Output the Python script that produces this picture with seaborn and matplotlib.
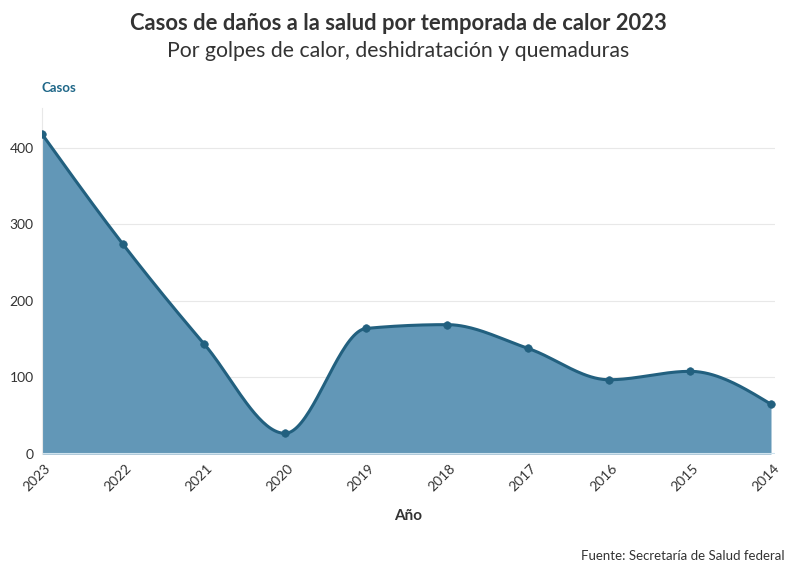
import numpy as np
import pandas as pd
import matplotlib
matplotlib.use("Agg")
import matplotlib.pyplot as plt
import seaborn as sns

years = ["2023", "2022", "2021", "2020", "2019", "2018", "2017", "2016", "2015", "2014"]
casos = [418, 274, 144, 27, 164, 169, 138, 97, 108, 65]

title = "Casos de daños a la salud por temporada de calor 2023"
subtitle = "Por golpes de calor, deshidratación y quemaduras"
y_label = "Casos"
x_label = "Año"
source = "Fuente: Secretaría de Salud federal"

LINE = "#22607f"
FILL = "#6297b7"
TXT = "#333333"

sns.set_theme(style="white")
plt.rcParams['font.family'] = ['Lato', 'DejaVu Sans']

df = pd.DataFrame({"pos": np.arange(len(years)), "year": years, "casos": casos})


def monotone_x(x, y, n=40):
    x = np.asarray(x, float); y = np.asarray(y, float)
    m = len(x)
    h = np.diff(x)
    s = np.diff(y) / h
    t = np.zeros(m)
    for i in range(1, m - 1):
        s0, s1 = s[i - 1], s[i]
        p = (s0 * h[i] + s1 * h[i - 1]) / (h[i - 1] + h[i])
        t[i] = (np.sign(s0) + np.sign(s1)) * min(abs(s0), abs(s1), 0.5 * abs(p))
    t[0] = (3 * s[0] - t[1]) / 2
    t[-1] = (3 * s[-1] - t[-2]) / 2
    xs, ys = [], []
    for i in range(m - 1):
        dx = h[i] / 3
        P0 = (x[i], y[i]); P1 = (x[i] + dx, y[i] + dx * t[i])
        P2 = (x[i + 1] - dx, y[i + 1] - dx * t[i + 1]); P3 = (x[i + 1], y[i + 1])
        u = np.linspace(0, 1, n, endpoint=(i == m - 2))
        b0 = (1 - u) ** 3; b1 = 3 * u * (1 - u) ** 2; b2 = 3 * u ** 2 * (1 - u); b3 = u ** 3
        xs.append(b0 * P0[0] + b1 * P1[0] + b2 * P2[0] + b3 * P3[0])
        ys.append(b0 * P0[1] + b1 * P1[1] + b2 * P2[1] + b3 * P3[1])
    return np.concatenate(xs), np.concatenate(ys)


fig = plt.figure(figsize=(7.96, 5.75), dpi=100)
ax = fig.add_axes([42 / 796, 1 - 454 / 575, (775 - 42) / 796, (454 - 108) / 575])

sx, sy = monotone_x(df["pos"], df["casos"])
ax.fill_between(sx, 0, sy, color=FILL, lw=0, zorder=1)
sns.lineplot(x=sx, y=sy, ax=ax, color=LINE, lw=2.2, zorder=3, sort=False)
sns.scatterplot(data=df, x="pos", y="casos", ax=ax, color=LINE, s=30, edgecolor=LINE, zorder=4)
ax.axhline(0, color="#cfe3ee", lw=1.5, zorder=2)

ax.set_xlim(0, 9 + 4 / 81)
ax.set_ylim(0, 452)
ax.set_yticks([0, 100, 200, 300, 400])
ax.yaxis.grid(True, color="#e8e8e8", lw=0.8)
ax.set_axisbelow(True)
ax.set_xticks(df["pos"])
ax.set_xticklabels(years, rotation=45, ha="right", rotation_mode="anchor")
ax.tick_params(axis="x", labelsize=10, colors=TXT, length=0, pad=6)
ax.tick_params(axis="y", labelsize=10, colors=TXT, length=0, pad=6)
for lbl in ax.get_xticklabels():
    lbl.set_transform(lbl.get_transform() + matplotlib.transforms.ScaledTranslation(2 / 100, 0, fig.dpi_scale_trans))
for sp in ["top", "right", "bottom"]:
    ax.spines[sp].set_visible(False)
ax.spines["left"].set_color("#e8e8e8")
ax.spines["left"].set_linewidth(0.8)
ax.set_xlabel("")
ax.set_ylabel("")

fig.text(0.5, 1 - 24 / 575, title, ha="center", va="center", fontsize=15.8, fontweight="bold", color=TXT)
fig.text(0.5, 1 - 51 / 575, subtitle, ha="center", va="center", fontsize=15.3, color=TXT)
fig.text(42 / 796, 1 - 88 / 575, y_label, ha="left", va="center", fontsize=9.5, fontweight="bold", color="#1f6788")
fig.text(408 / 796, 1 - 516 / 575, x_label, ha="center", va="center", fontsize=11, fontweight="bold", color=TXT)
fig.text(785 / 796, 1 - 556 / 575, source, ha="right", va="center", fontsize=9.5, color=TXT)

fig.savefig("out.png", dpi=100)
